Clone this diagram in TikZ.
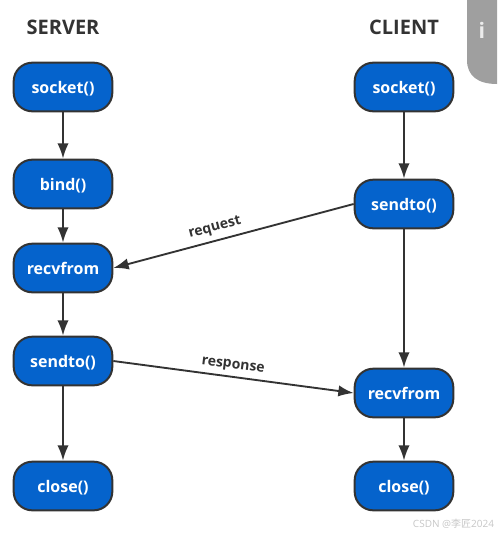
\documentclass[tikz,border=0pt]{standalone}
\usepackage{fontspec}
\setmainfont{Open Sans}
\newfontfamily\cjkfont{Noto Sans CJK SC}
\usetikzlibrary{arrows.meta}
\definecolor{boxblue}{HTML}{0563CC}
\definecolor{inkdark}{HTML}{333333}
\tikzset{
    callbox/.style={draw=inkdark, fill=boxblue, line width=1.5pt, rounded corners=14pt,
        minimum width=74pt, minimum height=36.5pt, inner sep=0pt, text height=9pt, text depth=0pt,
        text=white, font=\fontsize{12}{14}\selectfont\bfseries},
    flow/.style={->, inkdark, line width=1.5pt},
    msgflow/.style={->, inkdark, line width=1.4pt},
    heading/.style={text=inkdark, font=\fontsize{15}{17}\selectfont\bfseries},
    msglabel/.style={text=inkdark, font=\fontsize{10.5}{12}\selectfont\bfseries}
}
\begin{document}
\begin{tikzpicture}[x=0.75pt, y=-0.75pt, >={Latex[length=11.5pt, width=8.5pt]}]
    \useasboundingbox (0, 0) rectangle (497, 536);

    % 1. Tab at the top right
    \fill[gray!75] (467, 0) -- (467, 60) .. controls (467, 76) and (478, 84) .. (497, 84) -- (497, 0) -- cycle;
    \node[text=gray!15, font=\fontsize{16}{18}\selectfont\bfseries] (infomark) at (482, 30) {i};

    % 2. Column titles
    \node[heading] (servertitle) at (63, 27) {SERVER};
    \node[heading] (clienttitle) at (404, 27) {CLIENT};

    % 3. Server column
    \node[callbox] (ssocket) at (63, 87) {socket()};
    \node[callbox] (sbind) at (63, 184) {bind()};
    \node[callbox] (srecv) at (63, 268) {recvfrom};
    \node[callbox] (ssend) at (63, 361) {sendto()};
    \node[callbox] (sclose) at (63, 486) {close()};

    % 4. Client column
    \node[callbox] (csocket) at (404, 87) {socket()};
    \node[callbox] (csend) at (404, 204) {sendto()};
    \node[callbox] (crecv) at (404, 393) {recvfrom};
    \node[callbox] (cclose) at (404, 486) {close()};

    % 5. Arrows down each column
    \draw[flow] (ssocket) -- (sbind);
    \draw[flow] (sbind) -- (srecv);
    \draw[flow] (srecv) -- (ssend);
    \draw[flow] (ssend) -- (sclose);
    \draw[flow] (csocket) -- (csend);
    \draw[flow] (csend) -- (crecv);
    \draw[flow] (crecv) -- (cclose);

    % 6. Messages between the columns
    \draw[msgflow] (csend.west) -- (srecv.east);
    \draw[msgflow] (ssend.east) -- (crecv.west);
    \node[msglabel, rotate=15] (requestlabel) at (215, 228) {request};
    \node[msglabel, rotate=-7] (responselabel) at (233, 366) {response};

    % 7. Watermark
    \node[text=gray!45, font=\fontsize{7.5}{9}\selectfont] (watermark) at (453.5, 524) {CSDN @{\cjkfont 李匠}2024};
\end{tikzpicture}
\end{document}
